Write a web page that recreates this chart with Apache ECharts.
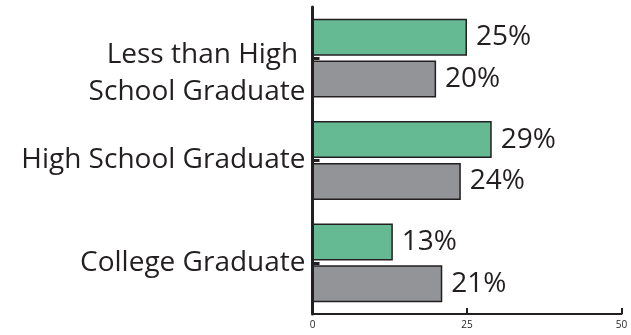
<!DOCTYPE html>
<html><head><meta charset="utf-8">
<script src="https://cdn.jsdelivr.net/npm/echarts@6/dist/echarts.min.js"></script>
<style>html,body{margin:0;padding:0;background:#fff}#c{width:631px;height:335px}</style>
</head><body><div id="c"></div>
<script>
var categories = ['Less than High \nSchool Graduate', 'High School Graduate', 'College Graduate'];
var greenValues = [25, 29, 13];
var greyValues = [20, 24, 21];
var xTicks = [0, 25, 50];

var ink = '#231f20';
var font = 'Open Sans';
var chart = echarts.init(document.getElementById('c'));
chart.setOption({
  animation: false,
  grid: {left: 312.5, right: 9.5, top: 7, bottom: 21, containLabel: false, outerBoundsMode: 'none'},
  xAxis: {
    type: 'value', min: xTicks[0], max: xTicks[2], interval: 25,
    axisLine: {show: true, lineStyle: {color: ink, width: 2}},
    axisTick: {show: true, inside: true, length: 6, lineStyle: {color: ink, width: 2}},
    splitLine: {show: false},
    axisLabel: {color: ink, fontFamily: font, fontSize: 10, margin: 6}
  },
  yAxis: {
    type: 'category', inverse: true,
    data: categories,
    axisLine: {show: true, lineStyle: {color: ink, width: 3}},
    axisTick: {show: true, inside: true, alignWithLabel: true, length: 7, lineStyle: {color: ink, width: 3}},
    axisLabel: {color: ink, fontFamily: font, fontSize: 28, margin: 7, lineHeight: 37, align: 'right',
      formatter: function (v) { return v.indexOf('\n') >= 0 ? '{s| }\n' + v : v; },
      rich: {s: {fontSize: 10, lineHeight: 31}}}
  },
  series: [
    {type: 'bar', data: greenValues, barWidth: 37, barGap: '13%',
     itemStyle: {color: '#65ba94', borderColor: ink, borderWidth: 1.5},
     label: {show: true, position: 'right', distance: 9, color: ink, fontFamily: font, fontSize: 28,
       formatter: function (p) { return p.value + '%'; }}},
    {type: 'bar', data: greyValues, barWidth: 37,
     itemStyle: {color: '#929497', borderColor: ink, borderWidth: 1.5},
     label: {show: true, position: 'right', distance: 9, color: ink, fontFamily: font, fontSize: 28,
       formatter: function (p) { return p.value + '%'; }}}
  ]
});
</script></body></html>
